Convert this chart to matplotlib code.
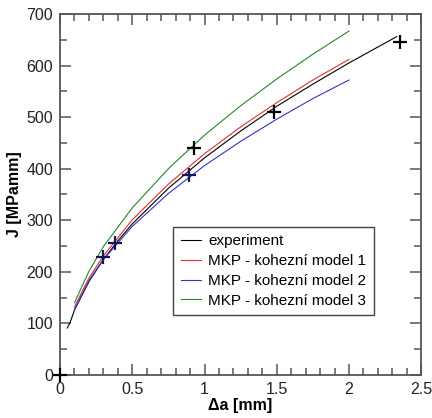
import matplotlib.pyplot as plt
from matplotlib.ticker import MultipleLocator, FuncFormatter

# experiment (black curve)
exp_a = [0.05, 0.07, 0.1, 0.2, 0.3, 0.4, 0.5, 0.75, 1.0, 1.25, 1.5, 1.75, 2.0, 2.2, 2.33]
exp_J = [91, 102, 126, 181, 224, 260, 293, 362, 421, 473, 521, 564, 605, 636, 656]

# MKP models
mod_a = [0.1, 0.2, 0.3, 0.5, 0.75, 1.0, 1.25, 1.5, 1.75, 2.0]
mod1_J = [132, 188, 231, 301, 370, 429, 481, 528, 572, 612]
mod2_J = [127, 183, 224, 288, 352, 406, 453, 496, 536, 572]
mod3_J = [140, 201, 249, 324, 400, 465, 522, 574, 622, 667]

# measured points (+)
pts_a = [0.0, 0.30, 0.38, 0.89, 0.93, 1.48, 2.35]
pts_J = [0, 228, 255, 387, 440, 510, 645]
pts_col = ['black', '#14145a', '#14145a', '#14145a', 'black', 'black', 'black']

labels = ['experiment', 'MKP - kohezní model 1', 'MKP - kohezní model 2', 'MKP - kohezní model 3']

plt.rcParams['font.family'] = ['Liberation Sans', 'DejaVu Sans']

fig = plt.figure(figsize=(4.32, 4.18), dpi=100)
ax = fig.add_axes([0.139, 0.103, 0.836, 0.8635])

ax.plot(exp_a, exp_J, color='black', lw=0.8, label=labels[0])
ax.plot(mod_a, mod1_J, color='#e03030', lw=0.8, label=labels[1])
ax.plot(mod_a, mod2_J, color='#3333cc', lw=0.8, label=labels[2])
ax.plot(mod_a, mod3_J, color='#228b22', lw=0.8, label=labels[3])

for a, j, c in zip(pts_a, pts_J, pts_col):
    ax.plot(a, j, marker='+', color=c, ms=10, mew=1.6, ls='none', clip_on=False, zorder=5)

ax.set_xlim(0, 2.5)
ax.set_ylim(0, 700)
ax.xaxis.set_major_locator(MultipleLocator(0.5))
ax.xaxis.set_minor_locator(MultipleLocator(0.1))
ax.yaxis.set_major_locator(MultipleLocator(100))
ax.yaxis.set_minor_locator(MultipleLocator(50))
ax.xaxis.set_major_formatter(FuncFormatter(lambda v, p: f'{v:g}'))

ax.tick_params(which='both', direction='in', top=True, right=True, color='#555555',
               labelsize=11.5, labelcolor='#222222')
ax.tick_params(which='major', length=8, width=1.1, pad=5)
ax.tick_params(which='minor', length=5, width=1.1)
for s in ax.spines.values():
    s.set_color('#555555')
    s.set_linewidth(1.3)

ax.set_xlabel('Δa [mm]', fontsize=11.5, fontweight='bold', labelpad=1)
ax.set_ylabel('J [MPamm]', fontsize=11.5, fontweight='bold', labelpad=3)

leg = ax.legend(loc='upper left', bbox_to_anchor=(0.313, 0.411), fontsize=11,
                frameon=True, fancybox=False, handlelength=1.3, handletextpad=0.5,
                borderpad=0.5, labelspacing=0.38, borderaxespad=0)
leg.get_frame().set_edgecolor('#444444')
leg.get_frame().set_linewidth(1.0)
leg.get_frame().set_alpha(1)

fig.savefig('out.png', dpi=100)
